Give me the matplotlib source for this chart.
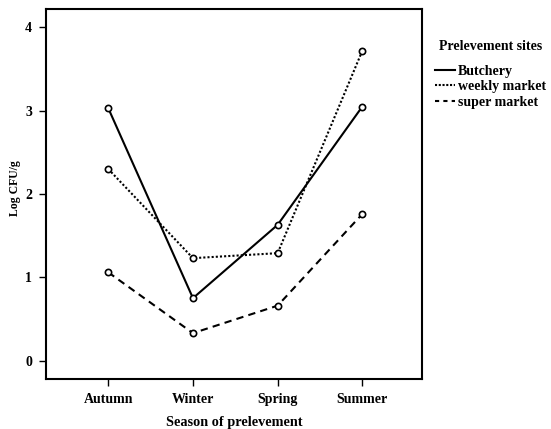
import numpy as np
import matplotlib.pyplot as plt
from matplotlib.lines import Line2D

plt.rcParams['font.family'] = ['Liberation Serif', 'DejaVu Serif']
plt.rcParams['font.weight'] = 'bold'

seasons = ["Autumn", "Winter", "Spring", "Summer"]
butchery = [3.03, 0.75, 1.63, 3.05]
weekly = [2.30, 1.23, 1.29, 3.72]
supermarket = [1.06, 0.33, 0.66, 1.76]

fig = plt.figure(figsize=(5.51, 4.29), dpi=100)
ax = fig.add_axes([0.0835, 0.1166, 0.6825, 0.8624])

x = np.arange(len(seasons))
styles = ['-', (0, (1.0, 1.0)), (0, (3.5, 2.5))]
mk = dict(marker='o', markersize=4.5, markerfacecolor='white',
          markeredgecolor='black', markeredgewidth=1.2, color='black')
for ys, ls in zip([butchery, weekly, supermarket], styles):
    ax.plot(x, ys, linestyle=ls, linewidth=1.5, **mk)

ax.set_xlim(-0.735, 3.705)
ax.set_ylim(-0.22, 4.22)
ax.set_xticks(x)
ax.set_xticklabels(seasons)
ax.set_yticks([0, 1, 2, 3, 4])
for s in ax.spines.values():
    s.set_linewidth(1.5)
ax.tick_params(axis='both', direction='out', length=5, width=1, labelsize=10, pad=5)
ax.set_xlabel("Season of prelevement", fontsize=10.3, fontweight='bold', labelpad=7)
ax.set_ylabel("Log CFU/g", fontsize=8.5, fontweight='bold')
ax.yaxis.set_label_coords(-0.067, 0.516)

handles = [Line2D([], [], color='black', linestyle=ls, linewidth=1.5)
           for ls in ['-', (0, (1.0, 0.8)), (0, (2.0, 2.0))]]
labels = ["Butchery", "weekly market", "super market"]
leg = ax.legend(handles, labels, loc='upper left', bbox_to_anchor=(1.035, 0.915),
                frameon=False, title="Prelevement sites", fontsize=10,
                title_fontsize=10, handlelength=1.45, handletextpad=0.2,
                labelspacing=0.2, borderaxespad=0, borderpad=0)
leg.get_title().set_fontweight('bold')
leg._legend_box.sep = 8

fig.savefig("out.png", dpi=100)
